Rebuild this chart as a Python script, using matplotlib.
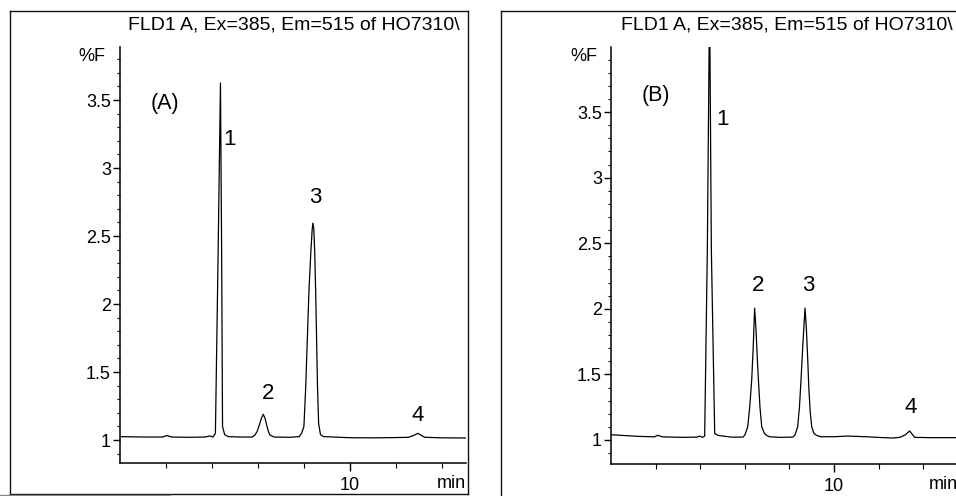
import matplotlib
matplotlib.use("Agg")
import matplotlib.pyplot as plt
from matplotlib.ticker import MultipleLocator, FixedLocator

plt.rcParams['font.family'] = ['Liberation Sans', 'DejaVu Sans']

# chromatogram A (time in min, %F)
time_a = [0.0, 1.0, 1.85, 2.04, 2.25, 3.0, 3.7, 3.9, 4.05, 4.15, 4.27, 4.37, 4.42, 4.46,
          4.55, 4.7, 5.2, 5.75, 5.87, 5.97, 6.06, 6.15, 6.23, 6.31, 6.38, 6.45, 6.52, 6.7,
          7.4, 7.8, 7.9, 8.0, 8.08, 8.15, 8.22, 8.30, 8.36, 8.39, 8.43, 8.47, 8.51, 8.55,
          8.59, 8.64, 8.72, 8.85, 10.0, 11.0, 12.0, 12.54, 12.75, 12.96, 13.1, 13.26,
          14.0, 15.05]
sig_a = [1.025, 1.022, 1.022, 1.033, 1.022, 1.02, 1.022, 1.03, 1.022, 1.05, 2.4, 3.625, 2.4, 1.1,
         1.04, 1.025, 1.022, 1.022, 1.037, 1.065, 1.11, 1.16, 1.189, 1.16, 1.11, 1.065, 1.037, 1.022,
         1.02, 1.025, 1.05, 1.10, 1.4, 1.75, 2.1, 2.38, 2.55, 2.595, 2.55, 2.38, 2.1, 1.75,
         1.4, 1.12, 1.04, 1.025, 1.017, 1.016, 1.018, 1.02, 1.032, 1.049, 1.035, 1.02,
         1.016, 1.015]

# chromatogram B
time_b = [0.0, 0.5, 1.2, 1.95, 2.1, 2.3, 3.2, 3.85, 3.98, 4.1, 4.2, 4.32, 4.42, 4.50, 4.65,
          4.8, 5.38, 5.92, 6.01, 6.13, 6.22, 6.31, 6.38, 6.44, 6.50, 6.56, 6.61, 6.68, 6.76,
          6.88, 6.98, 7.1, 7.6, 8.15, 8.25, 8.37, 8.45, 8.52, 8.60, 8.70, 8.76, 8.82, 8.87,
          8.93, 9.0, 9.1, 9.22, 9.4, 10.0, 10.6, 11.4, 12.2, 12.6, 12.95, 13.2, 13.39, 13.5,
          13.62, 14.3, 15.47]
sig_b = [1.04, 1.035, 1.028, 1.024, 1.036, 1.024, 1.02, 1.022, 1.03, 1.02, 1.03, 2.45, 4.4, 2.45, 1.05,
         1.035, 1.022, 1.022, 1.04, 1.10, 1.25, 1.46, 1.72, 2.005, 1.85, 1.62, 1.46, 1.25, 1.10,
         1.05, 1.035, 1.025, 1.02, 1.022, 1.038, 1.10, 1.25, 1.458, 1.72, 2.005, 1.85, 1.62, 1.40,
         1.22, 1.10, 1.05, 1.035, 1.025, 1.025, 1.03, 1.025, 1.018, 1.015, 1.02, 1.04, 1.069, 1.045,
         1.02, 1.018, 1.018]

# peak labels: (text, time, %F)
labels_a = [("1", 4.78, 3.21), ("2", 6.43, 1.345), ("3", 8.48, 2.78), ("4", 12.96, 1.18)]
labels_b = [("1", 5.02, 3.44), ("2", 6.59, 2.176), ("3", 8.83, 2.176), ("4", 13.45, 1.25)]

yticks = [1, 1.5, 2, 2.5, 3, 3.5]
ytick_labels = ["1", "1.5", "2", "2.5", "3", "3.5"]
title = "FLD1 A, Ex=385, Em=515 of HO7310\\"

W, H = 956, 496
fig = plt.figure(figsize=(W / 100, H / 100), dpi=100)


def px_box(x0, y0, x1, y1):
    return [x0 / W, 1 - y1 / H, (x1 - x0) / W, (y1 - y0) / H]


def frame(box, title_x):
    fa = fig.add_axes(box, zorder=0)
    fa.set_xticks([])
    fa.set_yticks([])
    for s in fa.spines.values():
        s.set_linewidth(1.0)
        s.set_color("#111111")
    t = fa.text(title_x, 1 - 14 / (box[3] * H), title, transform=fa.transAxes,
                ha="left", va="center", fontsize=14, clip_on=True)
    t.set_clip_box(fa.bbox)
    return fa


def chrom(box, t, s, xmax, ylim, labels, tag, tag_pos, pct_x, min_x):
    ax = fig.add_axes(box, zorder=2)
    ax.patch.set_alpha(0)
    ax.plot(t, s, color="black", lw=0.9)
    ax.set_xlim(0, xmax)
    ax.set_ylim(*ylim)
    for side in ("top", "right"):
        ax.spines[side].set_visible(False)
    for side in ("left", "bottom"):
        ax.spines[side].set_linewidth(1.1)
    ax.set_yticks(yticks)
    ax.set_yticklabels(ytick_labels)
    ax.yaxis.set_minor_locator(MultipleLocator(0.1))
    ax.xaxis.set_major_locator(FixedLocator([10]))
    ax.xaxis.set_minor_locator(FixedLocator([2, 4, 6, 8, 12, 14]))
    ax.tick_params(axis="y", which="major", length=5, width=1, pad=1.5, labelsize=13)
    ax.tick_params(axis="y", which="minor", length=2.5, width=0.8)
    ax.tick_params(axis="x", which="major", length=6, width=1, pad=4, labelsize=13)
    ax.tick_params(axis="x", which="minor", length=3.5, width=0.8)
    for txt, x, y in labels:
        ax.text(x, y, txt, ha="center", va="center", fontsize=16)
    ax.text(tag_pos[0], tag_pos[1], tag, ha="center", va="center", fontsize=15.5)
    ax.text(pct_x, 0.978, "%F", transform=ax.transAxes, ha="center", va="center", fontsize=13)
    ax.text(min_x, -0.05, "min", transform=ax.get_xaxis_transform(),
            ha="center", va="center", fontsize=13)
    return ax


frame(px_box(10, 11, 468, 494), 118 / 458)
frame(px_box(501, 11, 970, 500), 120 / 469)

chrom(px_box(120, 47, 466, 463), time_a, sig_a, 15.05, (0.831, 3.89),
      labels_a, "(A)", (1.96, 3.474), -0.08, 14.43)
chrom(px_box(611, 47, 956, 464), time_b, sig_b, 15.47, (0.817, 3.996),
      labels_b, "(B)", (2.02, 3.626), -0.078, 14.9)

# grey scan edge under panel A
fig.add_artist(plt.Line2D([0, 170 / W], [1 - 495 / H] * 2, color="#888888", lw=1.0))

fig.savefig("out.png", dpi=100)
